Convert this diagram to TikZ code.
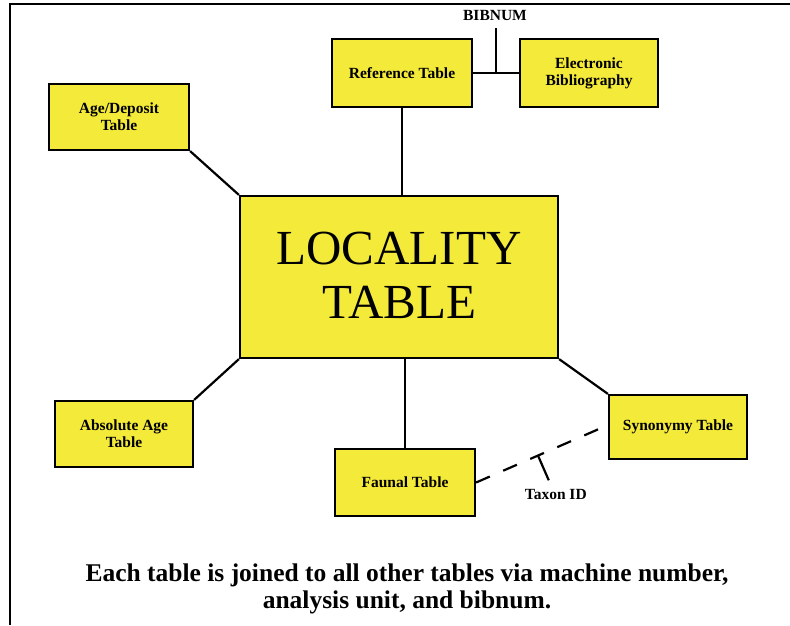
\documentclass[tikz,border=0pt]{standalone}
\usepackage{fontspec}
\setmainfont{Liberation Serif}
\usetikzlibrary{calc}
\definecolor{tabyellow}{RGB}{243,234,58}
\tikzset{
  tablebox/.style={draw=black, line width=2.2pt, fill=tabyellow, rectangle,
    align=center, inner sep=0pt,
    font=\fontsize{15.5}{17}\selectfont\bfseries},
  link/.style={draw=black, line width=2.2pt},
  keylabel/.style={font=\fontsize{15.5}{17}\selectfont\bfseries, inner sep=0pt},
}
\begin{document}
\begin{tikzpicture}[x=1pt, y=-1pt]
  \useasboundingbox (0,0) rectangle (790,625);
  % frame on the top and left sides
  \draw[line width=2.2pt] (10,625) -- (10,4) -- (790,4);

  % tables
  \node[tablebox, minimum width=318pt, minimum height=162pt, text depth=4pt,
        font=\fontsize{49}{54}\selectfont] (loc) at (399,277) {LOCALITY\\TABLE};
  \node[tablebox, minimum width=140pt, minimum height=66pt] (agedep) at (119,117) {Age/Deposit\\Table};
  \node[tablebox, minimum width=140pt, minimum height=68pt] (ref) at (402,73) {Reference Table};
  \node[tablebox, minimum width=138pt, minimum height=68pt] (ebib) at (589,73) {Electronic\\Bibliography};
  \node[tablebox, minimum width=138pt, minimum height=66pt] (absage) at (124,434) {Absolute Age\\Table};
  \node[tablebox, minimum width=140pt, minimum height=67pt] (faunal) at (405,482.5) {Faunal Table};
  \node[tablebox, minimum width=138pt, minimum height=64pt] (syn) at (678,427) {Synonymy Table};

  % links to the locality table
  \draw[link] (agedep.south east) -- (loc.north west);
  \draw[link] (ref.south) -- (ref.south |- loc.north);
  \draw[link] (absage.north east) -- (loc.south west);
  \draw[link] (faunal.north) -- (faunal.north |- loc.south);
  \draw[link] (syn.north west) -- (loc.south east);

  % reference <-> electronic bibliography via BIBNUM
  \draw[link] (ref.east) -- (ebib.west);
  \coordinate (bibjoin) at ($(ref.east)!0.5!(ebib.west)$);
  \coordinate (bibtop) at ($(bibjoin)+(0,-45)$);
  \draw[link] (bibjoin) -- (bibtop);
  \node[keylabel] (bibnum) at (495,15) {BIBNUM};

  % faunal <-> synonymy via Taxon ID (dashed)
  \coordinate (taxend) at ($(syn.west)+(-9,2)$);
  \draw[link, dash pattern=on 15pt off 14.5pt] (faunal.east) -- (taxend);
  \coordinate (stemtop) at ($(faunal.east)!67.5pt!(taxend)$);
  \coordinate (stembot) at ($(stemtop)!27pt!-90:(taxend)$);
  \draw[link] (stemtop) -- (stembot);
  \node[keylabel, anchor=north] (taxon) at ($(stembot)+(7,9)$) {Taxon ID};

  % caption
  \node[font=\fontsize{25.5}{27.5}\selectfont\bfseries, align=center, inner sep=0pt] (caption)
    at (407,589) {Each table is joined to all other tables via machine number,\\analysis unit, and bibnum.};
\end{tikzpicture}
\end{document}
